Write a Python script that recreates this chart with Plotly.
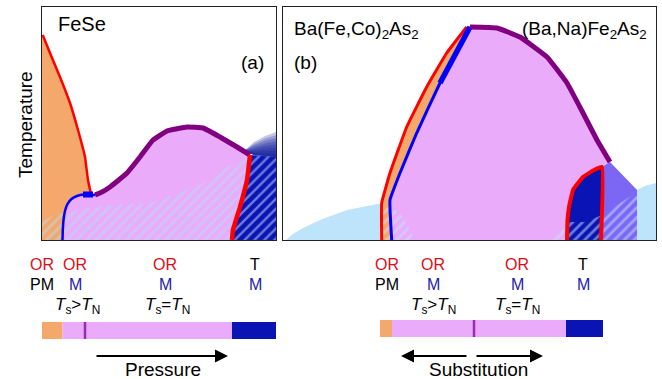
import plotly.graph_objects as go

# ---------------- Panel (a) FeSe  (schematic units: pressure 0..234, temperature 0..233)
a_red_left_x = [0.7, 8, 18, 28, 36, 43, 46, 49]
a_red_left_y = [205, 187, 163, 137, 110, 83, 60, 46]
a_blue_x = [20.5, 20.8, 21.5, 23, 25.5, 29.5, 35, 42, 48, 53]
a_blue_y = [0, 10, 20, 29, 36, 41, 44, 45.5, 45.5, 45]
a_purple_x = [53, 60, 68, 85, 98, 111, 125, 145, 161, 178, 195, 208]
a_purple_y = [45, 48, 53, 67, 83, 100, 109, 113, 112, 103, 93, 85]
a_red_right_x = [208, 205, 198, 191, 190]
a_red_right_y = [85, 60, 33, 10, 0]
a_hatch_x = [0, 8, 18, 26, 48, 75, 108, 125, 158, 185, 206]
a_hatch_y = [18, 23, 27, 27, 33, 35, 37, 43, 55, 73, 83]
a_grad_x = [203, 212, 223, 234]
a_grad_base = [89, 85, 84, 83]
a_grad_top = [90, 98, 104, 108]
a_blob_x = [41, 51]
a_blob_y = [45.5, 45.5]

# ---------------- Panel (b) BaFe2As2 family (doping 0..373, temperature 0..233)
b_red_x = [98.7, 98.7, 107, 123.7, 143.7, 163.7, 183.7]
b_red_y = [0, 37, 67, 113, 153, 187, 213]
b_blue_x = [108.7, 107, 117, 133.7, 157, 187]
b_blue_y = [0, 40, 67, 107, 157, 213]
b_blue_thick_x = [157, 187]
b_blue_thick_y = [157, 213]
b_purple_x = [187, 214, 237, 264, 284, 300, 314, 327]
b_purple_y = [213, 212, 203, 183, 157, 127, 100, 78]
b_dome_x = [284, 284.5, 286, 290, 300, 311, 319, 318]
b_dome_y = [0, 20, 33, 50, 63, 70, 73, 0]
b_violet_x = [319, 327, 354, 354, 318]
b_violet_y = [73, 78, 50, 0, 0]
b_lb_right_x = [354, 362, 373, 373, 354]
b_lb_right_y = [50, 54, 57, 0, 0]
b_lb_left_x = [3, 10, 20, 37, 64, 100, 125, 125]
b_lb_left_y = [0, 6, 12, 20, 30, 37, 40, 0]
b_hatch_l_x = [99, 99, 102, 110, 120, 132]
b_hatch_l_y = [0, 37, 35, 32, 23, 0]
b_hatch_r_x = [264, 272, 284, 302, 319, 354, 354]
b_hatch_r_y = [0, 8, 18, 18, 25, 48, 0]

# ---------------- bottom bars (phase boundaries along x) and labels
a_bar_edges = [0, 20.5, 190, 236]
a_bar_tick = 43
b_bar_edges = [97, 109, 283, 320]
b_bar_tick = 191
a_label_x = [0, 33, 123, 213]
b_label_x = [104, 150, 234, 300]
row1 = ["OR", "OR", "OR", "T"]
row2 = ["PM", "M", "M", "M"]
ts_labels = ["<i>T</i><sub>s</sub>&gt;<i>T</i><sub>N</sub>", "<i>T</i><sub>s</sub>=<i>T</i><sub>N</sub>"]
a_ts_x = [35, 125]
b_ts_x = [150, 234]

ORANGE = "#f4a86b"
PINK = "#eaabfa"
NAVY = "#0a14b4"
LBLUE = "#bde4fa"
VIOLET = "#7c67f5"
RED = "#ff0000"
BLUE = "#0000ff"
PURPLE = "#800080"
TXT_RED = "#d8101a"
TXT_BLUE = "#1c1cb0"
FONT = "Liberation Sans"

fig = go.Figure()


def poly(x, y, color, xa="x", ya="y", pattern=None):
    kw = dict(x=x, y=y, mode="none", fill="toself", fillcolor=color,
              xaxis=xa, yaxis=ya, hoverinfo="skip")
    if pattern is not None:
        kw["fillpattern"] = pattern
    fig.add_trace(go.Scatter(**kw))


def line(x, y, color, width, xa="x", ya="y"):
    fig.add_trace(go.Scatter(x=x, y=y, mode="lines",
                             line=dict(color=color, width=width, shape="spline", smoothing=0.3),
                             xaxis=xa, yaxis=ya, hoverinfo="skip"))


# ---- panel (a) fills
poly(a_blue_x + a_purple_x[1:] + a_red_right_x[1:], a_blue_y + a_purple_y[1:] + a_red_right_y[1:], PINK)
poly(a_red_left_x + a_blue_x[::-1] + [0, 0], a_red_left_y + a_blue_y[::-1] + [0, 205], ORANGE)
poly(a_red_right_x + [234, 234], a_red_right_y + [0, 83], NAVY,
     pattern=dict(shape="/", fgcolor="#cfe2ff", bgcolor=NAVY, size=7, solidity=0.35))
poly(a_hatch_x + a_red_right_x[1:] + [0], a_hatch_y + a_red_right_y[1:] + [0], "rgba(0,0,0,0)",
     pattern=dict(shape="/", fgcolor="#b3dcf6", bgcolor="rgba(0,0,0,0)", size=7, solidity=0.4))
nlay = 8
for k in range(1, nlay + 1):
    tops = [b + (t - b) * k / nlay for b, t in zip(a_grad_base, a_grad_top)]
    poly(a_grad_x + a_grad_x[::-1], tops + a_grad_base[::-1], "rgba(10,20,150,0.24)")

# ---- panel (a) lines
line(a_red_left_x, a_red_left_y, RED, 2.5)
line(a_blue_x, a_blue_y, BLUE, 2.5)
line(a_blob_x, a_blob_y, BLUE, 6)
line(a_purple_x, a_purple_y, PURPLE, 5)
line(a_red_right_x, a_red_right_y, RED, 4.5)

# ---- panel (b) fills
poly(b_lb_left_x, b_lb_left_y, LBLUE, "x2", "y2")
poly(b_lb_right_x, b_lb_right_y, LBLUE, "x2", "y2")
poly(b_blue_x + b_purple_x[1:] + [319, 319], b_blue_y + b_purple_y[1:] + [73, 0], PINK, "x2", "y2")
poly(b_red_x + b_blue_x[::-1], b_red_y + b_blue_y[::-1], ORANGE, "x2", "y2")
poly(b_dome_x, b_dome_y, NAVY, "x2", "y2")
poly(b_violet_x, b_violet_y, VIOLET, "x2", "y2")
hp = dict(shape="/", fgcolor="#c4e6fc", bgcolor="rgba(0,0,0,0)", size=7, solidity=0.4)
poly(b_hatch_l_x, b_hatch_l_y, "rgba(0,0,0,0)", "x2", "y2", pattern=hp)
poly(b_hatch_r_x, b_hatch_r_y, "rgba(0,0,0,0)", "x2", "y2", pattern=hp)

# ---- panel (b) lines
line(b_red_x, b_red_y, RED, 3, "x2", "y2")
line(b_blue_x, b_blue_y, BLUE, 3, "x2", "y2")
line(b_blue_thick_x, b_blue_thick_y, BLUE, 5.5, "x2", "y2")
line(b_purple_x, b_purple_y, PURPLE, 5, "x2", "y2")
line(b_dome_x, b_dome_y, RED, 4, "x2", "y2")

# ---- bottom bars
shapes = []
ybar_a = (1 - 339 / 379, 1 - 322 / 379)
ybar_b = (1 - 337 / 379, 1 - 320 / 379)
for edges, xr, yb, tick in [(a_bar_edges, "x", ybar_a, a_bar_tick), (b_bar_edges, "x2", ybar_b, b_bar_tick)]:
    for i, c in enumerate([ORANGE, PINK, NAVY]):
        shapes.append(dict(type="rect", xref=xr, yref="paper", x0=edges[i], x1=edges[i + 1],
                           y0=yb[0], y1=yb[1], fillcolor=c, line=dict(width=0), layer="above"))
    shapes.append(dict(type="line", xref=xr, yref="paper", x0=tick, x1=tick, y0=yb[0], y1=yb[1],
                       line=dict(color="#9a2cb4", width=2.5), layer="above"))

ann = []


def txt(t, x, y, xr, color="black", size=16, xanchor="center", yref="paper", **kw):
    ann.append(dict(text=t, x=x, y=y, xref=xr, yref=yref, showarrow=False, xanchor=xanchor,
                    yanchor="middle", font=dict(family=FONT, size=size, color=color), **kw))


for xs, xr in [(a_label_x, "x"), (b_label_x, "x2")]:
    for i, xv in enumerate(xs):
        txt(row1[i], xv, 1 - 264 / 379, xr, TXT_RED if row1[i] == "OR" else "black")
        txt(row2[i], xv, 1 - 284 / 379, xr, "black" if row2[i] == "PM" else TXT_BLUE)
for xs, xr in [(a_ts_x, "x"), (b_ts_x, "x2")]:
    for i, xv in enumerate(xs):
        txt(ts_labels[i], xv, 1 - 306 / 379, xr, size=17)

txt("Pressure", 121, 1 - 369 / 379, "x", size=19)
txt("Substitution", 195, 1 - 369 / 379, "x2", size=19)

# arrows
for xr, x0, x1 in [("x", 53, 186), ("x2", 185, 118), ("x2", 192, 260)]:
    ann.append(dict(x=x1, y=1 - 356 / 379, xref=xr, yref="paper", ax=x0, ay=0, axref=xr, ayref="pixel",
                    showarrow=True, arrowhead=2, arrowsize=1.3, arrowwidth=2, arrowcolor="black", text=""))

# panel texts
txt("FeSe", 14, 216, "x", size=20, xanchor="left", yref="y")
txt("(a)", 210, 178, "x", size=19, yref="y")
txt("Ba(Fe,Co)<sub>2</sub>As<sub>2</sub>", 9, 210, "x2", size=19, xanchor="left", yref="y2")
txt("(Ba,Na)Fe<sub>2</sub>As<sub>2</sub>", 366, 210, "x2", size=19, xanchor="right", yref="y2")
txt("(b)", 22, 178, "x2", size=19, yref="y2")
ann.append(dict(text="Temperature", x=25 / 662, y=1 - 125 / 379, xref="paper", yref="paper", showarrow=False,
                xanchor="center", yanchor="middle",
                textangle=-90, font=dict(family=FONT, size=19, color="black")))

ax_common = dict(showline=True, mirror=True, linecolor="#222", linewidth=1, showgrid=False,
                 zeroline=False, showticklabels=False, ticks="", fixedrange=True)
ydom = [1 - 240 / 379, 1 - 7 / 379]
fig.update_layout(
    width=662, height=379, margin=dict(l=0, r=0, t=0, b=0),
    paper_bgcolor="white", plot_bgcolor="white", showlegend=False,
    font=dict(family=FONT),
    xaxis=dict(domain=[42 / 662, 276 / 662], range=[0, 234], **ax_common),
    yaxis=dict(domain=ydom, range=[0, 233], anchor="x", **ax_common),
    xaxis2=dict(domain=[283 / 662, 656 / 662], range=[0, 373], anchor="y2", **ax_common),
    yaxis2=dict(domain=ydom, range=[0, 233], anchor="x2", **ax_common),
    shapes=shapes, annotations=ann,
)

fig.write_html("out.html")
